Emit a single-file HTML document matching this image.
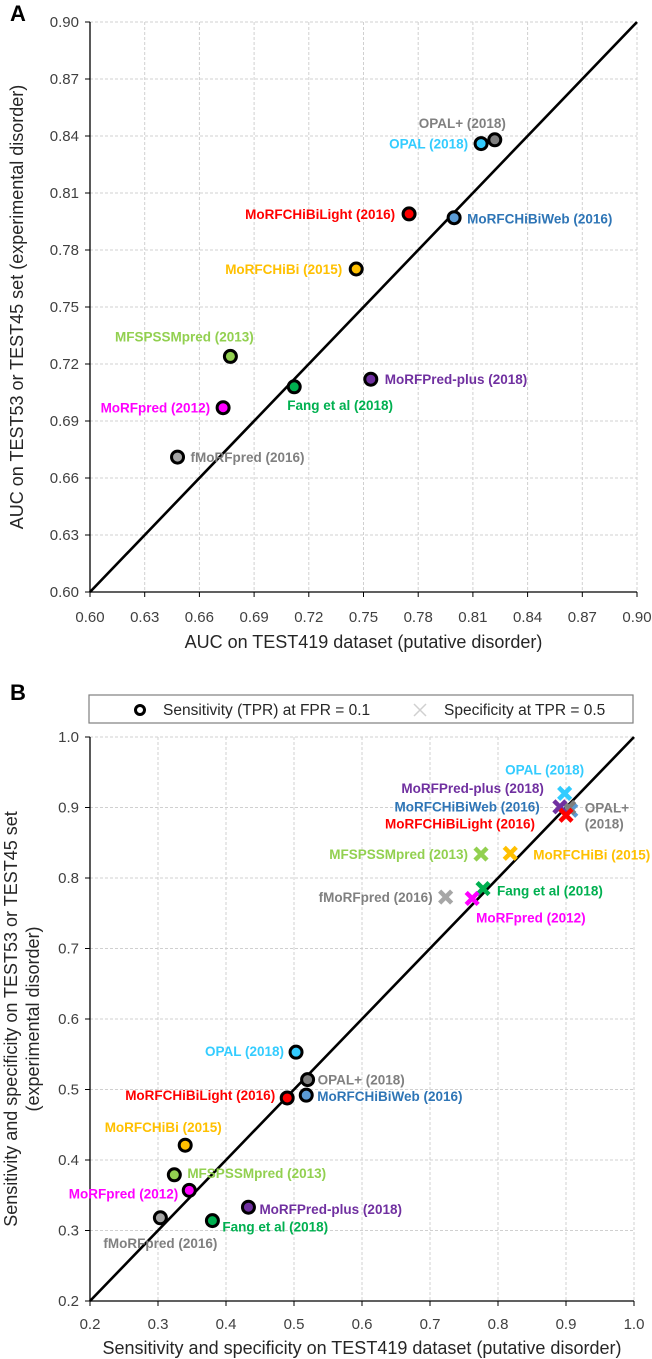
<!DOCTYPE html>
<html><head><meta charset="utf-8">
<style>
html,body{margin:0;padding:0;background:#fff;}
svg{display:block;font-family:"Liberation Sans",sans-serif;}
.tick{font-size:15px;fill:#404040;}
.lbl{font-size:13.5px;font-weight:bold;}
.axt{font-size:18px;fill:#262626;}
</style></head>
<body>
<svg id="chart" width="652" height="1359" viewBox="0 0 652 1359" xmlns="http://www.w3.org/2000/svg">
<text x="10" y="21" font-size="22" font-weight="bold">A</text>
<text x="10" y="700" font-size="22" font-weight="bold">B</text>
<g id="A"></g>
<g id="B"></g>
</svg>
<script>
const NS="http://www.w3.org/2000/svg";
// ---- Panel A data ----
const aNames=["OPAL+ (2018)","OPAL (2018)","MoRFCHiBiLight (2016)","MoRFCHiBiWeb (2016)","MoRFCHiBi (2015)","MFSPSSMpred (2013)","MoRFPred-plus (2018)","Fang et al (2018)","MoRFpred (2012)","fMoRFpred (2016)"];
const aX=[0.822,0.8145,0.775,0.7997,0.746,0.677,0.754,0.712,0.673,0.648];
const aY=[0.838,0.836,0.799,0.797,0.770,0.724,0.712,0.708,0.697,0.671];
const aTicks=[0.60,0.63,0.66,0.69,0.72,0.75,0.78,0.81,0.84,0.87,0.90];
// ---- Panel B data ----
const bNames=["OPAL (2018)","OPAL+ (2018)","MoRFCHiBiLight (2016)","MoRFCHiBiWeb (2016)","MoRFCHiBi (2015)","MFSPSSMpred (2013)","MoRFpred (2012)","MoRFPred-plus (2018)","Fang et al (2018)","fMoRFpred (2016)"];
const bSensX=[0.503,0.520,0.490,0.518,0.340,0.324,0.346,0.433,0.380,0.3035];
const bSensY=[0.553,0.514,0.488,0.492,0.421,0.379,0.357,0.333,0.314,0.318];
const bSpecX=[0.898,0.904,0.900,0.907,0.818,0.775,0.762,0.891,0.778,0.723];
const bSpecY=[0.920,0.900,0.889,0.896,0.835,0.834,0.771,0.901,0.785,0.773];
const bTicks=[0.2,0.3,0.4,0.5,0.6,0.7,0.8,0.9,1.0];

const colors={"OPAL+ (2018)":["#7f7f7f","#808080"],"OPAL (2018)":["#33ccff","#33ccff"],"MoRFCHiBiLight (2016)":["#ff0000","#ff0000"],"MoRFCHiBiWeb (2016)":["#5b9bd5","#2e75b6"],"MoRFCHiBi (2015)":["#ffc000","#ffc000"],"MFSPSSMpred (2013)":["#92d050","#92d050"],"MoRFPred-plus (2018)":["#7030a0","#7030a0"],"Fang et al (2018)":["#00b050","#00b050"],"MoRFpred (2012)":["#ff00ff","#ff00ff"],"fMoRFpred (2016)":["#a6a6a6","#808080"]};
const aLab={"OPAL+ (2018)":[-76,-12,"start"],"OPAL (2018)":[-13,5,"end"],"MoRFCHiBiLight (2016)":[-14,5,"end"],"MoRFCHiBiWeb (2016)":[13,6,"start"],"MoRFCHiBi (2015)":[-14,5,"end"],"MFSPSSMpred (2013)":[-46,-15,"middle"],"MoRFPred-plus (2018)":[14,5,"start"],"Fang et al (2018)":[-7,23,"start"],"MoRFpred (2012)":[-13,5,"end"],"fMoRFpred (2016)":[13,5,"start"]};
const bLabS={"OPAL (2018)":[-12,4,"end"],"OPAL+ (2018)":[10,5,"start"],"MoRFCHiBiLight (2016)":[-12,2,"end"],"MoRFCHiBiWeb (2016)":[11,6,"start"],"MoRFCHiBi (2015)":[-22,-13,"middle"],"MFSPSSMpred (2013)":[13,3,"start"],"MoRFpred (2012)":[-11,8,"end"],"MoRFPred-plus (2018)":[11,7,"start"],"Fang et al (2018)":[10,11,"start"],"fMoRFpred (2016)":[0,30,"middle"]};
const bLabX={"OPAL (2018)":[-20,-19,"middle"],"MoRFPred-plus (2018)":[-16,-14,"end"],"MoRFCHiBiWeb (2016)":[-31,1,"end"],"MoRFCHiBiLight (2016)":[-31,13,"end"],"OPAL+ (2018)":[16,5,"start"],"MFSPSSMpred (2013)":[-13,5,"end"],"MoRFCHiBi (2015)":[23,6,"start"],"Fang et al (2018)":[14,7,"start"],"MoRFpred (2012)":[4,24,"start"],"fMoRFpred (2016)":[-13,5,"end"]};

function el(tag,attrs,parent){const e=document.createElementNS(NS,tag);for(const k in attrs)e.setAttribute(k,attrs[k]);parent.appendChild(e);return e;}

function axes(g,L,R,T,B,min,max,ticks,dec,xt,ylines,xtOff,titleY,ycx){
  const sx=v=>L+(v-min)/(max-min)*(R-L);
  const sy=v=>B-(v-min)/(max-min)*(B-T);
  ticks.forEach(t=>{
    const X=sx(t),Y=sy(t);
    if(t>min){
      const gl=el("line",{x1:X,y1:T,x2:X,y2:B,stroke:"#d0d0d0","stroke-dasharray":"3,2","stroke-width":1},g);
      
      
      const gh=el("line",{x1:L,y1:Y,x2:R,y2:Y,stroke:"#d0d0d0","stroke-dasharray":"3,2","stroke-width":1},g);
      
      
    }
    const tk=el("line",{x1:X,y1:B,x2:X,y2:B+5,stroke:"#000"},g);
    
    
    const tk2=el("line",{x1:L-5,y1:Y,x2:L,y2:Y,stroke:"#000"},g);
    
    
    const tx=el("text",{x:X,y:B+xtOff,"text-anchor":"middle",class:"tick"},g);tx.textContent=t.toFixed(dec);
    
    
    const ty=el("text",{x:L-11,y:Y+5,"text-anchor":"end",class:"tick"},g);ty.textContent=t.toFixed(dec);
    
    
  });
  const ax=el("line",{x1:L,y1:B,x2:R,y2:B,stroke:"#000","stroke-width":1.3},g);
  
  
  const ay=el("line",{x1:L,y1:T,x2:L,y2:B,stroke:"#000","stroke-width":1.3},g);
  
  
  const d=el("line",{x1:sx(min),y1:sy(min),x2:sx(max),y2:sy(max),stroke:"#000","stroke-width":2.6},g);
  
  
  const xl=el("text",{x:(L+R)/2,y:titleY,"text-anchor":"middle",class:"axt"},g);xl.textContent=xt;
  
  
  ylines.forEach((ln,i)=>{
    const cx=ycx[i], cy=(T+B)/2;
    const yl=el("text",{x:cx,y:cy,"text-anchor":"middle",class:"axt","transform":"rotate(-90 "+cx+" "+cy+")","dominant-baseline":"middle"},g);yl.textContent=ln;
    
    
  });
  return [sx,sy];
}
function circle(g,x,y,name){
  const c=el("circle",{cx:x,cy:y,r:6,fill:colors[name][0],stroke:"#000","stroke-width":3},g);
  
  
}
function cross(g,x,y,name){
  const p=el("path",{d:`M${x-6},${y-6}L${x+6},${y+6}M${x+6},${y-6}L${x-6},${y+6}`,stroke:colors[name][0],"stroke-width":4.5,fill:"none"},g);
  
  
}
function label(g,x,y,name,pl){
  if(name==="OPAL+ (2018)"&&pl[0]===16){
    ["OPAL+","(2018)"].forEach((s,i)=>{const t=el("text",{x:x+pl[0],y:y+pl[1]+i*16,"text-anchor":"start",class:"lbl",fill:colors[name][1]},g);t.textContent=s;
      
      });
    return;
  }
  const t=el("text",{x:x+pl[0],y:y+pl[1],"text-anchor":pl[2],class:"lbl",fill:colors[name][1]},g);t.textContent=name;
  
  
}
// Panel A
const gA=document.getElementById("A");
const [ax_,ay_]=axes(gA,90,637,22,592,0.60,0.90,aTicks,2,"AUC on TEST419 dataset (putative disorder)",["AUC on TEST53 or TEST45 set (experimental disorder)"],30,648,[18]);
aNames.forEach((n,i)=>{const X=ax_(aX[i]),Y=ay_(aY[i]);circle(gA,X,Y,n);label(gA,X,Y,n,aLab[n]);});
// Panel B
const gB=document.getElementById("B");
const lg=el("g",{},gB);


el("rect",{x:89,y:695,width:544,height:28,fill:"#fff",stroke:"#7f7f7f","stroke-width":1.2},lg);
el("circle",{cx:140,cy:710,r:4.5,fill:"#fff",stroke:"#000","stroke-width":3},lg);
const lt1=el("text",{x:163,y:715,"font-size":"15.5",fill:"#262626"},lg);lt1.textContent="Sensitivity (TPR) at FPR = 0.1";


el("path",{d:"M414,704L426,716M426,704L414,716",stroke:"#d0d0d0","stroke-width":1.5},lg);
const lt2=el("text",{x:444,y:715,"font-size":"15.5",fill:"#262626"},lg);lt2.textContent="Specificity at TPR = 0.5";


const [bx,by]=axes(gB,90,634,737,1301,0.2,1.0,bTicks,1,"Sensitivity and specificity on TEST419 dataset (putative disorder)",["Sensitivity and specificity on TEST53 or TEST45 set","(experimental disorder)"],28,1354,[12,34]);
bNames.forEach((n,i)=>{const X=bx(bSensX[i]),Y=by(bSensY[i]);circle(gB,X,Y,n);label(gB,X,Y,n,bLabS[n]);});
const order=[3,1,7,2,0,4,5,8,6,9];
order.forEach(i=>{const n=bNames[i];cross(gB,bx(bSpecX[i]),by(bSpecY[i]),n);});
bNames.forEach((n,i)=>{label(gB,bx(bSpecX[i]),by(bSpecY[i]),n,bLabX[n]);});
</script>
</body></html>
